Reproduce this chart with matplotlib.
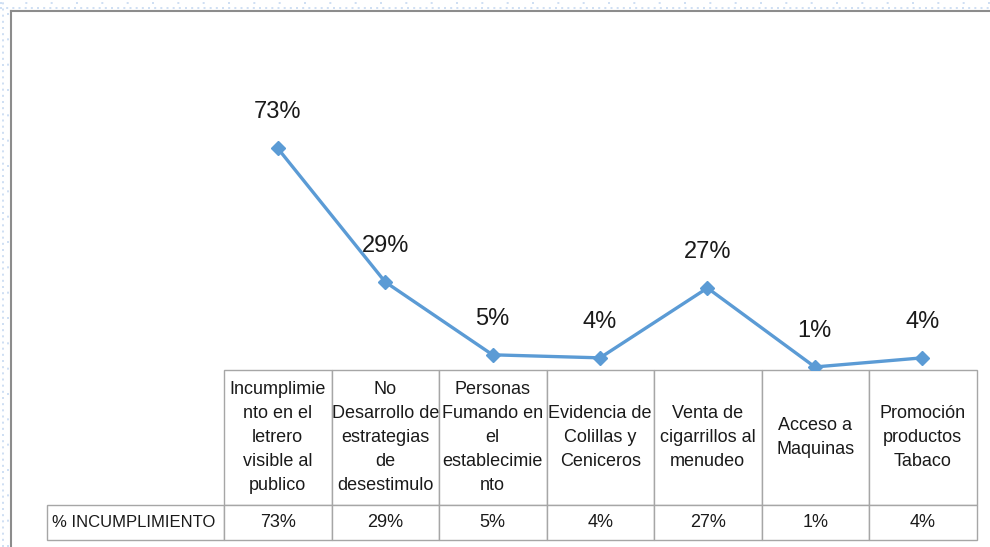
import matplotlib.pyplot as plt
from matplotlib.lines import Line2D

categories = [
    "Incumplimie\nnto en el\nletrero\nvisible al\npublico",
    "No\nDesarrollo de\nestrategias\nde\ndesestimulo",
    "Personas\nFumando en\nel\nestablecimie\nnto",
    "Evidencia de\nColillas y\nCeniceros",
    "Venta de\ncigarrillos al\nmenudeo",
    "Acceso a\nMaquinas",
    "Promoción\nproductos\nTabaco",
]
values = [0.73, 0.29, 0.05, 0.04, 0.27, 0.01, 0.04]
value_labels = ["73%", "29%", "5%", "4%", "27%", "1%", "4%"]
series_name = "% INCUMPLIMIENTO"

FONT = "Liberation Sans"
W, H = 990, 547

fig = plt.figure(figsize=(9.9, 5.47), dpi=100)
fig.patch.set_facecolor("white")

# plot area in pixel terms: x 224..976, y 127..370
ax = fig.add_axes([224 / W, 1 - 370 / H, 752 / W, 243 / H])
x = list(range(len(values)))
ax.plot(x, values, color="#5B9BD5", lw=2.4, marker="D", ms=7.5,
        markeredgecolor="#5B9BD5", markerfacecolor="#5B9BD5")
for xi, v, lab in zip(x, values, value_labels):
    ax.annotate(lab, (xi, v), xytext=(0, 26), textcoords="offset points",
                ha="center", va="center", fontsize=17, family=FONT,
                color="#1a1a1a")
ax.set_xlim(-0.5, len(values) - 0.5)
ax.set_ylim(0, 0.8)
ax.axis("off")

# data table under the plot
cell_text = [[""] + [c for c in categories],
             [series_name] + value_labels]
col_w = [177] + [107.5] * len(categories)
tot_w = sum(col_w)
tbl = ax.table(cellText=cell_text, colWidths=[w / tot_w for w in col_w],
               cellLoc="center",
               bbox=[-177 / 752, -170 / 243, tot_w / 752, 170 / 243])
tbl.auto_set_font_size(False)
for (r, c), cell in tbl.get_celld().items():
    cell.set_edgecolor("#A6A6A6")
    cell.set_linewidth(1.0)
    cell.set_height(135 if r == 0 else 35)
    t = cell.get_text()
    t.set_fontsize(13)
    t.set_fontfamily(FONT)
    t.set_color("#1a1a1a")
    t.set_linespacing(1.55)
    if c == 0:
        if r == 0:
            cell.visible_edges = "open"
        else:
            t.set_fontsize(12)
            cell.PAD = 0.03
            t.set_ha("left")
            cell._loc = "left"

# chart-area border and sheet gridlines outside it
fig.add_artist(Line2D([11 / W, 1], [1 - 11 / H, 1 - 11 / H],
                      transform=fig.transFigure, color="#8C8C8C", lw=1.5))
fig.add_artist(Line2D([11 / W, 11 / W], [1 - 11 / H, 0],
                      transform=fig.transFigure, color="#8C8C8C", lw=1.5))
for yy in (2.5, 7.5):
    fig.add_artist(Line2D([0, 1], [1 - yy / H, 1 - yy / H],
                          transform=fig.transFigure, color="#C6D9F1",
                          lw=1.2, ls=(0, (1.2, 2.5 if yy > 5 else 14))))
for xx in (2.5, 7.5):
    fig.add_artist(Line2D([xx / W, xx / W], [0, 1],
                          transform=fig.transFigure, color="#C6D9F1",
                          lw=1.2, ls=(0, (1.2, 14 if xx > 5 else 2.5))))

fig.savefig("out.png", dpi=100)
